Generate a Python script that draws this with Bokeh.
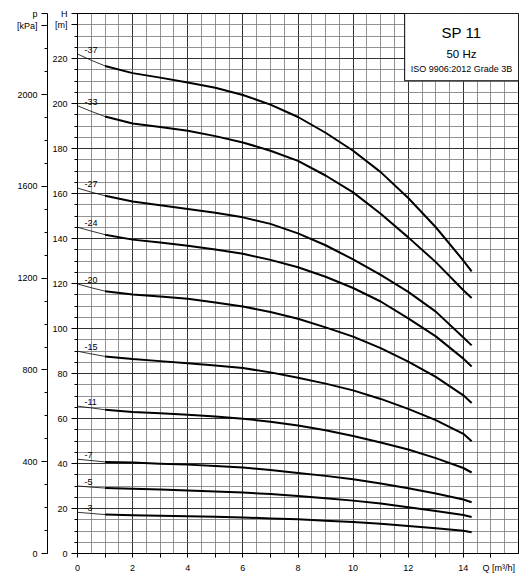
from bokeh.plotting import figure
from bokeh.models import LinearAxis, Range1d, FixedTicker, Label, BoxAnnotation
from bokeh.embed import file_html
from bokeh.resources import INLINE

q = [0, 0.5, 1, 2, 3, 4, 5, 6, 7, 8, 9, 10, 11, 12, 13, 14, 14.3]

# head H [m] for each stage count
h_37 = [222.0, 219.2, 216.7, 213.5, 211.5, 209.3, 207.0, 203.8, 199.5, 194.0, 187.0, 179.0, 169.5, 158.0, 145.0, 130.2, 125.4]
h_33 = [199.0, 196.5, 194.2, 191.1, 189.6, 187.9, 185.5, 182.7, 179.0, 174.5, 168.0, 160.5, 151.0, 140.5, 129.5, 117.0, 113.6]
h_27 = [162.4, 160.6, 159.0, 156.4, 154.8, 153.1, 151.4, 149.4, 146.5, 142.3, 137.0, 130.7, 123.8, 116.3, 107.5, 96.0, 92.5]
h_24 = [145.0, 143.3, 141.7, 139.5, 138.2, 136.8, 135.1, 133.2, 130.5, 127.2, 123.0, 118.0, 112.0, 104.5, 96.5, 86.6, 83.1]
h_20 = [119.8, 118.1, 116.6, 115.1, 114.2, 113.2, 111.6, 109.8, 107.3, 104.3, 100.5, 96.4, 91.3, 85.3, 78.5, 70.3, 66.9]
h_15 = [89.9, 88.7, 87.6, 86.4, 85.5, 84.6, 83.6, 82.4, 80.5, 78.1, 75.5, 72.5, 68.7, 64.3, 59.3, 53.2, 49.9]
h_11 = [65.5, 64.7, 63.9, 62.9, 62.3, 61.7, 60.9, 59.9, 58.6, 56.9, 54.8, 52.2, 49.3, 46.2, 42.4, 38.0, 36.0]
h_7 = [41.9, 41.3, 40.7, 40.4, 39.9, 39.5, 38.9, 38.2, 37.1, 35.8, 34.5, 33.0, 31.1, 29.0, 26.7, 24.0, 22.8]
h_5 = [30.0, 29.5, 29.1, 28.8, 28.4, 28.0, 27.6, 27.1, 26.4, 25.6, 24.6, 23.5, 22.2, 20.6, 18.9, 17.1, 16.2]
h_3 = [18.3, 17.8, 17.3, 17.0, 16.8, 16.6, 16.3, 16.0, 15.6, 15.2, 14.6, 14.0, 13.2, 12.2, 11.2, 10.1, 9.45]

stages = ["-37", "-33", "-27", "-24", "-20", "-15", "-11", "-7", "-5", "-3"]
curves = [h_37, h_33, h_27, h_24, h_20, h_15, h_11, h_7, h_5, h_3]

q_ticks = [0, 2, 4, 6, 8, 10, 12, 14]
h_ticks = [0, 20, 40, 60, 80, 100, 120, 140, 160, 180, 200, 220]
p_ticks = [0, 400, 800, 1200, 1600, 2000]

FONT = "Liberation Sans"
KPA_PER_M = 9.80665
Q_NAME_AT = 15.28     # where the flow axis name sits
H_NAME_AT = 239.9     # top of the head axis
H_UNIT_AT = 235
P_NAME_AT = 2353
P_UNIT_AT = 2300

p = figure(frame_width=441, frame_height=540,
           x_range=Range1d(0, 16), y_range=Range1d(0, 240),
           min_border_left=77, min_border_top=13, min_border_right=6, min_border_bottom=22,
           output_backend="svg", toolbar_location=None, tools="")
p.outline_line_color = "black"
p.outline_line_width = 1
p.background_fill_color = "white"

# grid: darker lines at labelled values, lighter ones every 0.5 m3/h / 5 m
p.xgrid[0].ticker = FixedTicker(ticks=[i * 2 for i in range(9)],
                                minor_ticks=[i * 0.5 for i in range(33)])
p.ygrid[0].ticker = FixedTicker(ticks=[i * 20 for i in range(13)],
                                minor_ticks=[i * 5 for i in range(49)])
for g in (p.xgrid[0], p.ygrid[0]):
    g.grid_line_color = "#333333"
    g.grid_line_width = 1
    g.minor_grid_line_color = "#777777"
    g.minor_grid_line_width = 0.8

# Q axis, the axis name is written as the last tick label
p.xaxis.ticker = FixedTicker(ticks=q_ticks + [Q_NAME_AT], minor_ticks=list(range(0, 16)))
p.xaxis.major_label_overrides = {Q_NAME_AT: "Q [m³/h]"}
p.xaxis.major_tick_out = 0
p.xaxis.minor_tick_out = 4
p.xaxis.major_label_standoff = 5

# H axis (the non-breaking spaces only widen the axis panel)
p.yaxis.ticker = FixedTicker(ticks=h_ticks + [H_UNIT_AT, H_NAME_AT],
                             minor_ticks=[i * 5 for i in range(48)])
p.yaxis.major_label_overrides = {H_UNIT_AT: "\u00a0\u00a0[m]", H_NAME_AT: "H"}
p.yaxis.major_tick_out = 6
p.yaxis.minor_tick_out = 3
p.yaxis.major_label_standoff = 4

# p axis in kPa, same scale as H
p.extra_y_ranges = {"kpa": Range1d(0, 240 * KPA_PER_M)}
kpa_axis = LinearAxis(y_range_name="kpa",
                      ticker=FixedTicker(ticks=p_ticks + [P_UNIT_AT, P_NAME_AT],
                                         minor_ticks=[i * 100 for i in range(24)]),
                      major_label_overrides={P_UNIT_AT: "[kPa]", P_NAME_AT: "p"},
                      major_tick_out=6, minor_tick_out=3, major_label_standoff=4)
p.add_layout(kpa_axis, "left")

for ax in (p.xaxis[0], p.yaxis[0], kpa_axis):
    ax.axis_line_color = "black"
    ax.major_tick_line_color = "black"
    ax.minor_tick_line_color = "black"
    ax.major_tick_in = 0
    ax.minor_tick_in = 0
    ax.major_label_text_font = FONT
    ax.major_label_text_font_size = "9px"
    ax.major_label_text_color = "black"

# curves: thin below 1 m3/h, thick over the working range
for name, h in zip(stages, curves):
    p.line(q[:3], h[:3], line_color="black", line_width=0.8)
    p.line(q[2:], h[2:], line_color="black", line_width=2, line_join="round")
    p.add_layout(Label(x=0.25, y=h[0] + 0.5, text=name, text_font=FONT,
                       text_font_size="9px", text_color="black"))

# title box
p.add_layout(BoxAnnotation(left=11.87, right=16, bottom=210.1, top=240,
                           fill_color="white", fill_alpha=1,
                           line_color="black", line_width=1, line_alpha=1))
for txt, y, size in (("SP 11", 231.4, "15px"), ("50 Hz", 222.2, "11.5px"),
                     ("ISO 9906:2012 Grade 3B", 215.3, "9px")):
    p.add_layout(Label(x=13.93, y=y, text=txt, text_font=FONT, text_font_size=size,
                       text_align="center", text_baseline="middle", text_color="black"))

open("out.html", "w").write(file_html(p, INLINE))
